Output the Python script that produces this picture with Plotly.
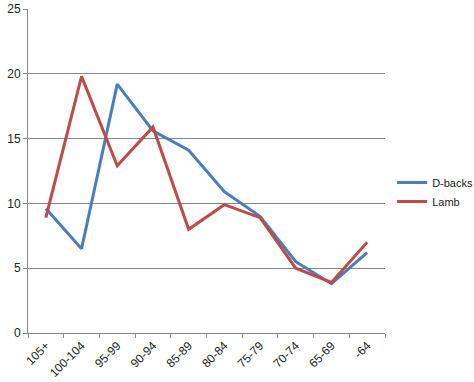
import plotly.graph_objects as go

categories = ["105+", "100-104", "95-99", "90-94", "85-89", "80-84", "75-79", "70-74", "65-69", "-64"]
dbacks = [9.6, 6.5, 19.2, 15.6, 14.1, 10.9, 9.0, 5.5, 3.8, 6.2]
lamb = [8.9, 19.8, 12.9, 15.9, 8.0, 9.9, 8.9, 5.0, 3.9, 7.0]
y_ticks = [0, 5, 10, 15, 20, 25]

fig = go.Figure()
fig.add_trace(go.Scatter(x=categories, y=dbacks, mode="lines", name="D-backs",
                         line=dict(color="#4A7EBB", width=3)))
fig.add_trace(go.Scatter(x=categories, y=lamb, mode="lines", name="Lamb",
                         line=dict(color="#BE4B48", width=3)))

fig.update_layout(
    width=474, height=382,
    margin=dict(l=28, r=89, t=9, b=49, autoexpand=False),
    paper_bgcolor="white", plot_bgcolor="white",
    font=dict(family="Liberation Sans, Arial, sans-serif", size=12, color="#222222"),
    showlegend=True,
    legend=dict(x=1.02, y=0.435, xanchor="left", yanchor="middle",
                font=dict(size=11), bgcolor="rgba(0,0,0,0)", tracegroupgap=0),
    xaxis=dict(type="category", tickangle=-45, showline=True, linecolor="#868686",
               linewidth=1, ticks="outside", ticklen=4, tickcolor="#868686",
               tickson="boundaries", showgrid=False, zeroline=False, automargin=False,
               ticklabeloverflow="allow", range=[-0.5, len(categories) - 0.5]),
    yaxis=dict(range=[0, 25], tickvals=y_ticks, showline=True, linecolor="#868686",
               linewidth=1, ticks="outside", ticklen=4, tickcolor="#868686", automargin=False,
               ticklabeloverflow="allow",
               showgrid=True, gridcolor="#868686", gridwidth=1, zeroline=False),
)
fig.write_html("out.html", config={"displayModeBar": False},
               post_script="document.body.style.margin='0';")
